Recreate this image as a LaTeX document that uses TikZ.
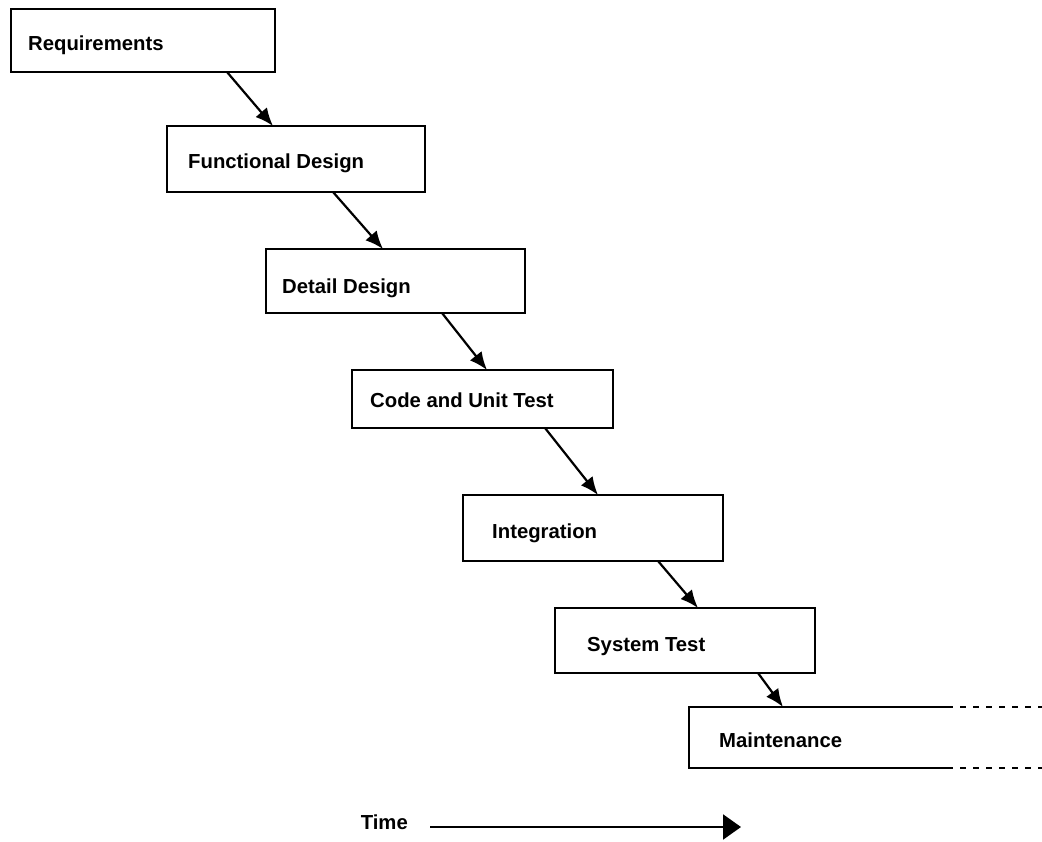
\documentclass[tikz,border=0pt]{standalone}
\usepackage{fontspec}
\setmainfont{Liberation Sans}
\newfontfamily\phasefont{Liberation Sans Bold}
\usetikzlibrary{arrows.meta}
\begin{document}
\begin{tikzpicture}[x=1pt,y=-1pt,
  phase/.style={draw=black, line width=2.2pt, rectangle, inner sep=0pt, outer sep=0pt, anchor=north west},
  lbl/.style={anchor=west, inner sep=0pt, font=\phasefont\fontsize{20.3}{24}\selectfont},
  flow/.style={line width=2.2pt, -{Latex[length=18pt,width=15pt]}},
  open/.style={line width=2.2pt, dash pattern=on 6pt off 7pt}]
\useasboundingbox[fill=white] (0,0) rectangle (1042,842);

% phase boxes
\node[phase, minimum width=264pt, minimum height=63pt] (R) at (11,9) {};
\node[phase, minimum width=258pt, minimum height=66pt] (F) at (167,126) {};
\node[phase, minimum width=259pt, minimum height=64pt] (D) at (266,249) {};
\node[phase, minimum width=261pt, minimum height=58pt] (C) at (352,370) {};
\node[phase, minimum width=260pt, minimum height=66pt] (I) at (463,495) {};
\node[phase, minimum width=260pt, minimum height=65pt] (S) at (555,608) {};
\node[phase, draw=none, minimum width=353pt, minimum height=61pt] (M) at (689,707) {};

% open-ended maintenance box
\draw[line width=2.2pt] ([xshift=258pt]M.north west) -- (M.north west) -- (M.south west) -- ([xshift=258pt]M.south west);
\draw[open] ([xshift=258pt]M.north west) -- (M.north east);
\draw[open] ([xshift=258pt]M.south west) -- (M.south east);

% labels
\node[lbl] (Rt) at (28,45) {Requirements};
\node[lbl] (Ft) at (188,163) {Functional Design};
\node[lbl] (Dt) at (282,288) {Detail Design};
\node[lbl] (Ct) at (370,400) {Code and Unit Test};
\node[lbl] (It) at (492,533) {Integration};
\node[lbl] (St) at (587,647) {System Test};
\node[lbl] (Mt) at (719,740) {Maintenance};

% phase transitions
\draw[flow] ([xshift=216pt]R.south west) -- ([xshift=106pt]F.north west);
\draw[flow] ([xshift=166pt]F.south west) -- ([xshift=117pt]D.north west);
\draw[flow] ([xshift=176pt]D.south west) -- ([xshift=135pt]C.north west);
\draw[flow] ([xshift=193pt]C.south west) -- ([xshift=135pt]I.north west);
\draw[flow] ([xshift=195pt]I.south west) -- ([xshift=143pt]S.north west);
\draw[flow] ([xshift=203pt]S.south west) -- ([xshift=94pt]M.north west);

% time axis
\node[lbl, anchor=east] (T) at (408,822) {Time};
\coordinate (T0) at (430,827);
\coordinate (T1) at (741,827);
\draw[line width=2.2pt, -{Triangle[length=18pt,width=25pt]}] (T0) -- (T1);
\end{tikzpicture}
\end{document}
